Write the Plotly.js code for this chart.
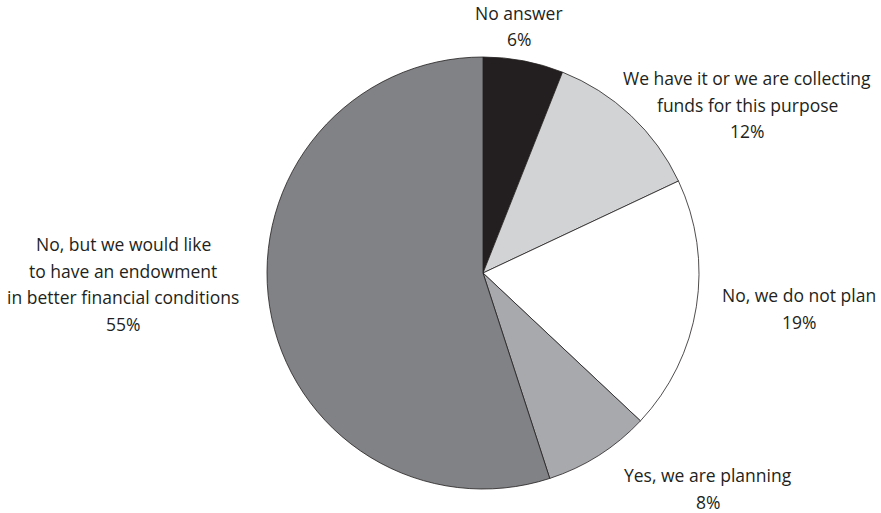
<!DOCTYPE html>
<html>
<head>
<meta charset="utf-8">
<script src="https://cdn.plot.ly/plotly-3.0.1.min.js"></script>
<style>html,body{margin:0;padding:0;background:#fff;}#chart{width:881px;height:513px;}</style>
</head>
<body>
<div id="chart"></div>
<script>
// Data
const categories = [
  "No answer",
  "We have it or we are collecting funds for this purpose",
  "No, we do not plan",
  "Yes, we are planning",
  "No, but we would like to have an endowment in better financial conditions"
];
const labelLines = [
  ["No answer"],
  ["We have it or we are collecting", "funds for this purpose"],
  ["No, we do not plan"],
  ["Yes, we are planning"],
  ["No, but we would like", "to have an endowment", "in better financial conditions"]
];
const values = [6, 12, 19, 8, 55];
const colors = ["#231f20", "#d1d3d4", "#ffffff", "#a7a9ac", "#808285"];

// Label layout (pixel center x, first line center y)
const W = 881, H = 513;
const labelPos = [
  [519, 13],
  [747, 78],
  [799, 295],
  [708, 475],
  [123, 244]
];
const lineStep = 26.5;

const annotations = [];
labelLines.forEach((lines, i) => {
  const all = lines.concat([values[i] + "%"]);
  all.forEach((t, j) => {
    annotations.push({
      xref: "paper", yref: "paper",
      x: labelPos[i][0] / W,
      y: 1 - (labelPos[i][1] + j * lineStep) / H,
      xanchor: "center", yanchor: "middle",
      text: t, showarrow: false,
      font: {family: "Open Sans, Noto Sans, sans-serif", size: 17.5, color: "#231f20"}
    });
  });
});

const cx = 483, cy = 273, r = 216;
const trace = {
  type: "pie",
  labels: categories,
  values: values,
  sort: false,
  direction: "clockwise",
  rotation: 0,
  textinfo: "none",
  hoverinfo: "label+percent",
  marker: {colors: colors, line: {color: "#231f20", width: 0.8}},
  domain: {
    x: [(cx - r) / W, (cx + r) / W],
    y: [1 - (cy + r) / H, 1 - (cy - r) / H]
  }
};

Plotly.newPlot("chart", [trace], {
  width: W, height: H,
  margin: {l: 0, r: 0, t: 0, b: 0},
  showlegend: false,
  paper_bgcolor: "#ffffff",
  annotations: annotations
}, {staticPlot: true});
</script>
</body>
</html>
